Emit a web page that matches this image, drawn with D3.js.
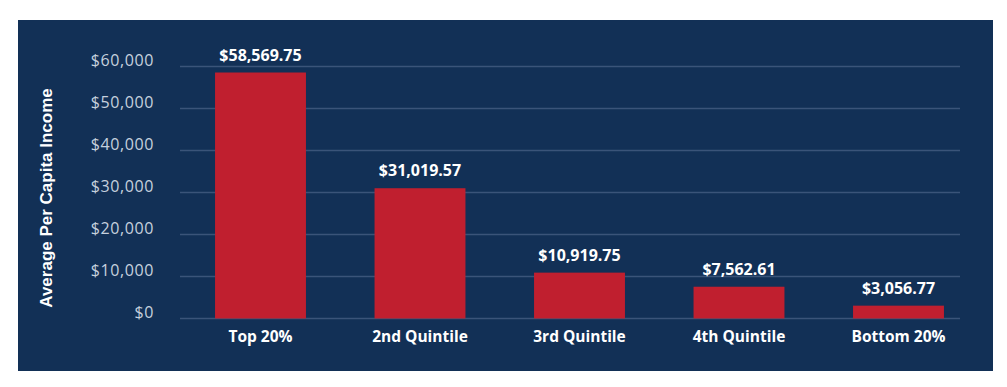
<!DOCTYPE html>
<html>
<head>
<meta charset="utf-8">
<script src="https://cdn.jsdelivr.net/npm/d3@7"></script>
<style>
  body { margin: 0; background: #fff; }
  svg { display: block; }
</style>
</head>
<body>
<svg id="chart" width="1007" height="387"></svg>
<script>
const categories = ["Top 20%", "2nd Quintile", "3rd Quintile", "4th Quintile", "Bottom 20%"];
const incomes = [58569.75, 31019.57, 10919.75, 7562.61, 3056.77];
const yTicks = [0, 10000, 20000, 30000, 40000, 50000, 60000];
const yTitle = "Average Per Capita Income";

const svg = d3.select("#chart");

// navy panel
svg.append("rect")
    .attr("x", 18).attr("y", 20)
    .attr("width", 975).attr("height", 351)
    .attr("fill", "#123056");

const x = d3.scaleBand()
    .domain(categories)
    .range([180.75, 978.25])
    .paddingInner(0.43)
    .paddingOuter(0.215);

const y = d3.scaleLinear()
    .domain([0, 60000])
    .range([318.5, 66.5]);

const fmtTick = d3.format("$,");
const fmtVal = v => "$" + d3.format(",.2f")(v);

// gridlines
svg.append("g")
  .selectAll("line")
  .data(yTicks)
  .join("line")
    .attr("x1", 180).attr("x2", 960)
    .attr("y1", d => y(d)).attr("y2", d => y(d))
    .attr("stroke", "#3a5479")
    .attr("stroke-width", 1.5);

// y tick labels
svg.append("g")
  .selectAll("text")
  .data(yTicks)
  .join("text")
    .attr("x", 154)
    .attr("y", d => y(d) - 1)
    .attr("text-anchor", "end")
    .attr("font-family", "Open Sans, sans-serif")
    .attr("font-size", 16)
    .attr("letter-spacing", 0.6)
    .attr("fill", "#c6d0de")
    .text(d => fmtTick(d));

// axis title
svg.append("text")
    .attr("transform", "translate(52,198) rotate(-90)")
    .attr("text-anchor", "middle")
    .attr("font-family", "Liberation Sans, Arial, sans-serif")
    .attr("font-weight", "bold")
    .attr("font-size", 17)
    .attr("fill", "#ffffff")
    .text(yTitle);

const data = categories.map((c, i) => ({cat: c, value: incomes[i]}));

// bars
svg.append("g")
  .selectAll("rect")
  .data(data)
  .join("rect")
    .attr("x", d => x(d.cat))
    .attr("y", d => y(d.value))
    .attr("width", x.bandwidth())
    .attr("height", d => y(0) - y(d.value))
    .attr("fill", "#c01f2f");

// value labels
svg.append("g")
  .selectAll("text")
  .data(data)
  .join("text")
    .attr("x", d => x(d.cat) + x.bandwidth() / 2)
    .attr("y", d => y(d.value) - 12)
    .attr("text-anchor", "middle")
    .attr("font-family", "Open Sans, sans-serif")
    .attr("font-weight", "bold")
    .attr("font-size", 16)
    .attr("fill", "#ffffff")
    .text(d => fmtVal(d.value));

// category labels
svg.append("g")
  .selectAll("text")
  .data(categories)
  .join("text")
    .attr("x", d => x(d) + x.bandwidth() / 2)
    .attr("y", 342)
    .attr("text-anchor", "middle")
    .attr("font-family", "Open Sans, sans-serif")
    .attr("font-weight", "bold")
    .attr("font-size", 15.5)
    .attr("fill", "#ffffff")
    .text(d => d);
</script>
</body>
</html>
